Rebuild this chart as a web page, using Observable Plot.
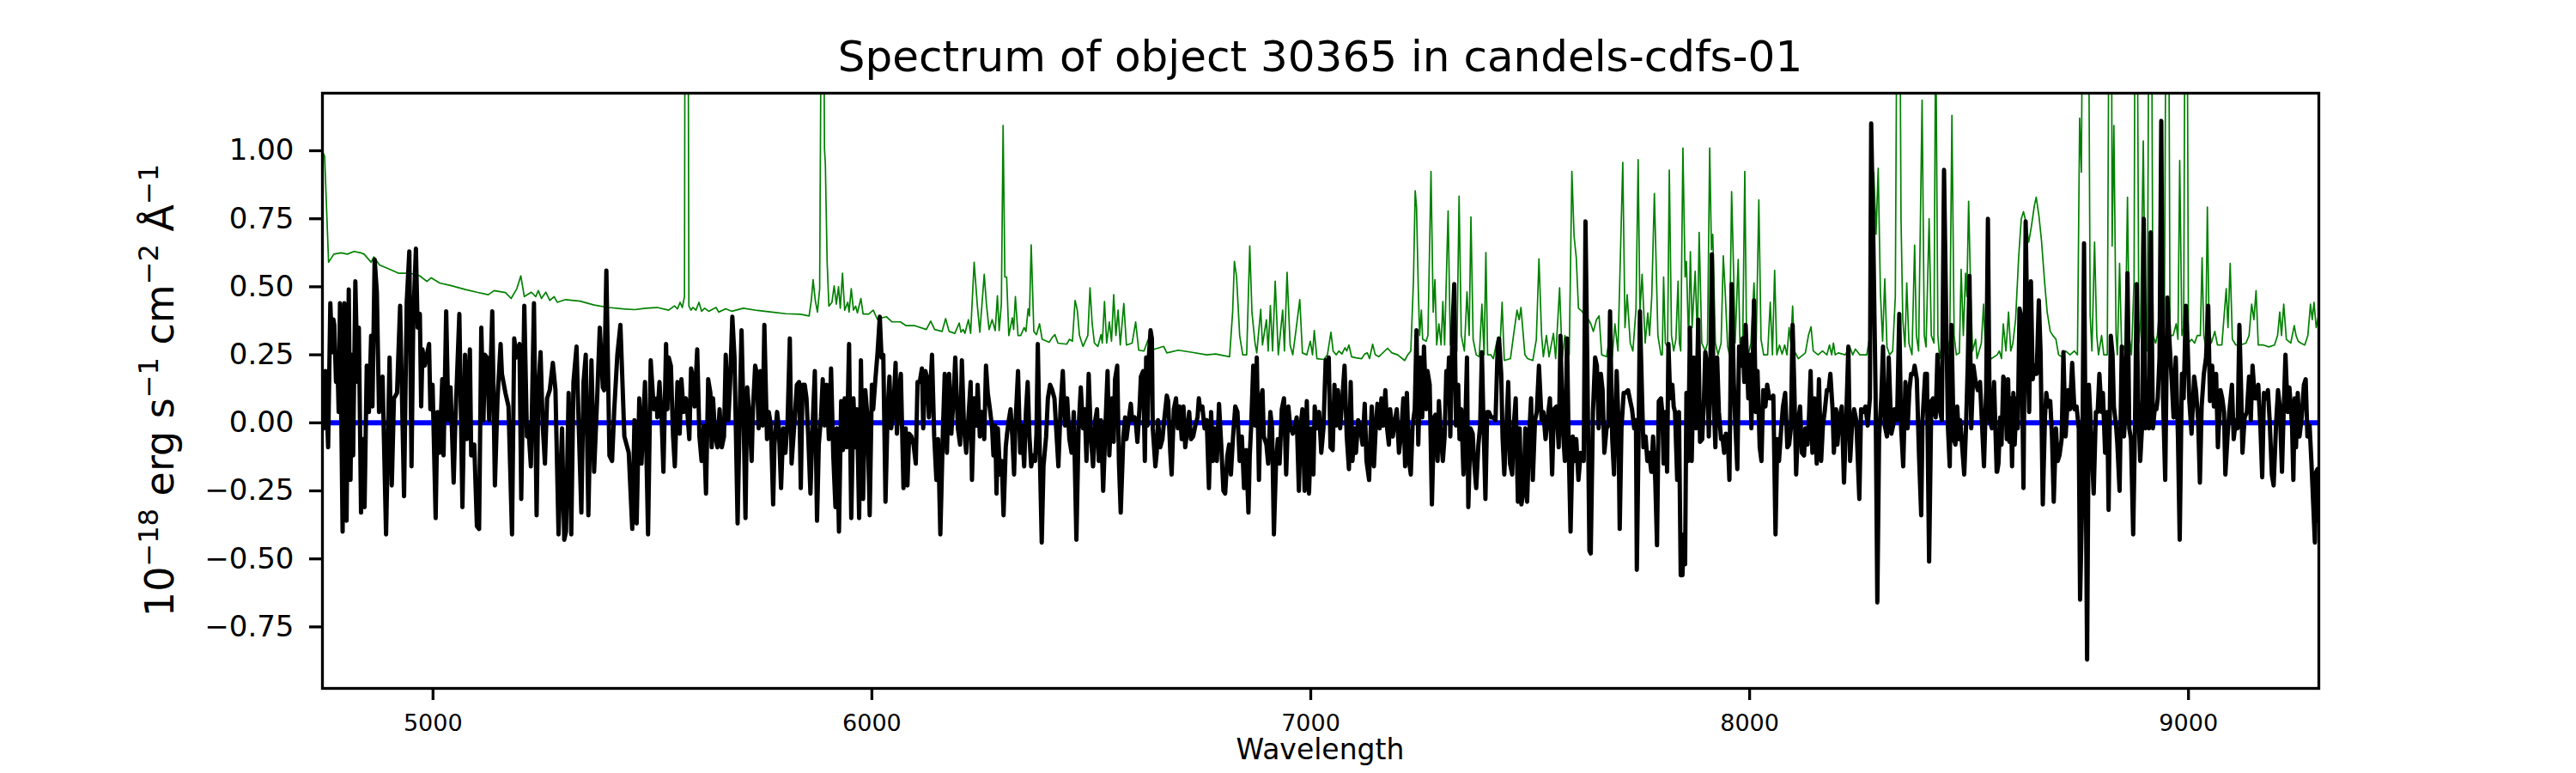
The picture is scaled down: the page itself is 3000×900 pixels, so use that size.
<!DOCTYPE html>
<html><head><meta charset="utf-8">
<script src="https://cdn.jsdelivr.net/npm/d3@7"></script>
<script src="https://cdn.jsdelivr.net/npm/@observablehq/plot@0.6"></script>
<style>html,body{margin:0;padding:0;background:#fff;} svg{display:block;}</style>
</head><body><div id="chart"></div>
<script>
const titleText = "Spectrum of object 30365 in candels-cdfs-01";
const xLabelText = "Wavelength";
const xTicks = [5000, 6000, 7000, 8000, 9000];
const yTicks = [-0.75, -0.5, -0.25, 0, 0.25, 0.5, 0.75, 1.0];
const zeroLevel = [0];

// Object flux (black)
const wave1 = [4751,4755,4761,4766,4770,4773,4775,4779,4782,4785,
4788,4794,4798,4803,4808,4812,4815,4818,4823,4828,
4831,4836,4841,4844,4849,4854,4859,4862,4867,4872,
4877,4885,4893,4901,4906,4911,4918,4925,4934,4940,
4946,4951,4955,4961,4965,4970,4973,4976,4981,4986,
4991,4994,4999,5006,5010,5015,5021,5024,5030,5035,
5040,5047,5051,5060,5067,5073,5077,5084,5087,5094,
5100,5105,5110,5115,5118,5123,5128,5135,5141,5147,
5154,5157,5165,5172,5180,5185,5190,5197,5201,5208,
5214,5217,5223,5230,5236,5240,5245,5250,5255,5260,
5266,5273,5279,5286,5294,5299,5303,5309,5315,5320,
5327,5332,5338,5343,5348,5354,5361,5367,5374,5380,
5387,5390,5395,5402,5408,5413,5420,5427,5436,5446,
5454,5459,5464,5470,5475,5483,5490,5496,5503,5510];
const flux1 = [-0.02,0.19,-0.09,0.44,0.26,0.38,0.36,0.15,0.24,0.04,
0.44,-0.40,0.44,-0.36,0.49,-0.21,0.25,-0.12,0.52,0.15,
0.35,-0.33,-0.06,-0.31,0.21,0.04,0.32,0.06,0.60,0.48,
0.04,0.17,-0.41,0.24,-0.23,0.09,0.11,0.43,-0.27,0.44,
0.63,-0.16,0.38,0.64,0.35,0.40,0.06,0.27,0.21,0.25,
0.29,0.05,0.14,-0.35,0.04,-0.11,0.16,-0.12,0.41,0.01,
0.13,-0.22,0.01,0.40,-0.31,0.25,-0.06,0.27,-0.12,-0.08,
-0.38,-0.39,0.35,0.01,0.25,0.24,0.01,0.41,-0.23,0.09,
0.29,0.18,0.11,0.06,-0.41,0.31,0.24,0.29,-0.28,0.43,
-0.05,-0.01,-0.16,0.44,-0.34,0.12,0.26,-0.01,-0.15,0.09,
0.12,0.22,0.12,-0.41,-0.02,-0.43,-0.40,0.11,-0.41,0.15,
0.28,-0.01,-0.33,0.15,0.25,-0.34,0.23,-0.18,0.09,0.35,
0.13,0.12,0.56,-0.12,-0.14,0.05,0.25,0.36,-0.05,-0.11,
-0.39,0.01,-0.37,0.09,-0.15,0.15,-0.41,0.23,0.05,0.09];

const wave2 = [5511,5516,5521,5525,5531,5534,5537,5542,5547,5551,
5557,5562,5566,5571,5576,5579,5584,5588,5593,5596,
5602,5607,5612,5617,5622,5627,5632,5635,5638,5643,
5648,5653,5658,5663,5667,5673,5677,5682,5687,5694,
5699,5703,5708,5712,5716,5721,5726,5729,5734,5738,
5742,5746,5751,5755,5761,5765,5770,5775,5778,5784,
5788,5793,5798,5803,5808,5813,5817,5824,5829,5834,
5838,5842,5847,5851,5855,5860,5864,5870,5875,5879,
5884,5888,5892,5897,5902,5907,5912,5917,5920,5925,
5930,5934,5938,5943,5948,5953,5958,5962,5966,5971,
5975,5980,5985,5990,5995,6000,6003,6008,6013,6018,
6022,6026,6031,6036,6040,6044,6049,6054,6057,6062,
6066,6072,6077,6081,6085,6090,6095,6100,6104,6109,
6114,6117,6122,6127,6130,6137,6142,6147,6151,6156,
6162,6166,6171,6176,6181,6186,6190,6196,6201,6205,
6210,6215,6220,6225,6228,6233,6238,6241,6246,6251,
6256,6260,6264,6269];
const flux2 = [0.02,0.15,0.01,-0.18,0.29,0.05,0.24,0.21,-0.05,-0.16,
0.15,-0.04,0.16,0.04,0.09,0.05,-0.06,0.20,0.16,0.06,
0.27,-0.05,-0.14,-0.01,-0.26,0.16,0.11,-0.09,0.09,-0.05,
-0.09,0.05,-0.09,-0.05,0.25,0.01,0.15,0.39,0.24,-0.37,
0.05,0.34,-0.01,-0.35,0.13,0.02,-0.14,0.05,0.21,0.18,
-0.02,0.19,-0.01,0.36,-0.06,0.04,-0.01,-0.30,-0.08,0.04,
-0.02,-0.24,-0.02,-0.11,0.01,0.31,-0.15,0.01,0.14,0.15,
-0.24,0.14,0.14,0.09,-0.05,-0.26,-0.05,0.19,-0.36,-0.08,
0.02,0.16,-0.01,0.14,-0.06,0.20,-0.12,-0.31,-0.02,-0.40,
0.08,-0.10,0.09,-0.09,0.29,-0.35,0.09,-0.09,0.05,-0.35,
0.23,-0.28,0.12,0.02,-0.34,0.14,0.05,0.16,0.26,0.39,
0.24,0.25,-0.29,0.05,0.17,-0.02,0.05,0.22,-0.04,0.12,
0.18,-0.24,-0.02,-0.23,-0.04,-0.05,-0.08,-0.15,0.15,0.15,
0.20,-0.02,0.19,0.16,0.02,0.25,-0.05,-0.21,-0.06,-0.41,
-0.02,0.18,-0.11,0.18,-0.04,0.09,0.24,-0.02,-0.08,0.23,
-0.02,-0.11,0.02,0.15,-0.21,0.09,-0.01,0.14,-0.05,0.04,
-0.06,0.21,0.11,0.05];

const wave3 = [6274,6277,6281,6284,6287,6292,6296,6300,6305,6308,
6312,6316,6320,6324,6327,6333,6338,6342,6347,6351,
6355,6359,6363,6367,6372,6375,6378,6383,6387,6391,
6397,6401,6406,6411,6416,6421,6425,6430,6435,6440,
6445,6450,6455,6460,6466,6471,6476,6481,6485,6489,
6494,6499,6504,6509,6513,6517,6522,6527,6532,6537,
6541,6547,6551,6554,6559,6563,6567,6573,6577,6580,
6586,6590,6593,6599,6602,6605,6610,6613,6618,6622,
6625,6628,6631,6635,6638,6640,6646,6649,6652,6657,
6662,6666,6672,6675,6680,6683,6688,6693,6697,6701,
6706,6710,6714,6719,6723,6727,6732,6737,6742,6745,
6748,6753,6758,6763,6768,6773,6777,6781,6786,6791,
6796,6801,6805,6810,6814,6818,6823,6828,6833,6838,
6843,6848,6853,6858,6861,6864,6869,6873,6877,6882,
6886,6890,6893,6899,6903,6908,6912,6916,6921,6925,
6929,6934,6939,6944,6949,6953,6959,6964,6968,6973,
6977,6981,6986,6991,6996,7001,7006,7009,7014,7019,
7024,7029,7034];
const flux3 = [-0.02,-0.12,-0.01,-0.26,-0.02,-0.19,-0.14,-0.34,-0.09,-0.04,
0.01,0.05,-0.05,-0.19,-0.01,0.19,-0.11,-0.01,-0.16,0.04,
0.15,-0.05,-0.16,-0.12,-0.14,-0.04,0.29,-0.14,-0.44,-0.16,
-0.05,0.09,0.14,0.12,0.09,-0.05,-0.16,0.06,0.19,-0.01,
0.09,-0.06,-0.11,0.04,-0.43,-0.02,0.13,-0.02,0.05,-0.14,
0.18,-0.05,-0.16,0.01,0.05,-0.14,0.01,-0.25,-0.02,0.19,
-0.12,0.09,-0.07,0.16,0.21,-0.15,-0.33,-0.05,0.02,-0.06,
0.02,0.07,0.01,0.02,-0.01,-0.07,0.06,0.17,0.19,-0.14,
0.24,-0.01,0.24,0.34,0.31,-0.02,-0.16,-0.11,0.01,-0.09,
-0.06,0.01,0.10,0.08,-0.11,-0.19,0.05,0.09,-0.02,0.06,
-0.06,0.06,-0.09,-0.02,0.04,-0.06,-0.05,-0.01,0.02,0.09,
0.05,0.06,-0.02,0.01,-0.24,0.04,-0.14,-0.02,-0.14,0.07,
-0.08,-0.25,-0.26,-0.12,-0.08,-0.19,-0.05,0.06,0.04,-0.14,
-0.05,-0.24,-0.10,-0.33,-0.12,-0.02,0.21,-0.01,0.24,-0.21,
0.09,0.12,-0.05,-0.08,-0.15,0.04,-0.02,-0.41,-0.14,-0.06,
-0.15,0.05,0.09,-0.19,0.06,-0.01,-0.04,-0.01,0.02,-0.25,
-0.01,0.05,-0.25,0.08,-0.26,-0.02,-0.19,0.06,-0.02,0.04,
-0.11,-0.02,0.23];

const wave4 = [7038,7041,7045,7050,7054,7058,7062,7067,7072,7077,
7082,7087,7091,7095,7100,7103,7108,7113,7118,7123,
7127,7133,7136,7139,7144,7148,7152,7157,7161,7165,
7170,7174,7178,7181,7187,7191,7196,7201,7206,7211,
7215,7219,7224,7228,7232,7237,7241,7245,7250,7254,
7258,7263,7266,7271,7276,7281,7284,7289,7292,7297,
7301,7305,7309,7312,7315,7318,7323,7327,7331,7336,
7339,7343,7348,7351,7356,7359,7364,7369,7372,7377,
7382,7386,7390,7393,7398,7402,7406,7411,7416,7421,
7426,7429,7434,7437,7441,7446,7450,7454,7459,7462,
7467,7472,7476,7480,7485,7489,7493,7498,7502,7506,
7511,7515,7520,7526,7530,7535,7540,7545,7550,7554,
7560,7565,7569,7574,7579,7584,7588,7592,7597,7601,
7605,7610,7615,7622,7626,7630,7635,7638,7643,7648,
7652,7656,7661,7665,7669,7674,7678,7682,7687,7691,
7697,7701,7704,7708,7713,7717,7723,7728,7732,7737,
7741,7743,7747,7750,7755,7758,7763,7767,7771,7776,
7780,7785,7789,7793,7798];
const flux4 = [0.21,0.24,-0.09,-0.10,0.14,-0.01,0.12,-0.02,0.09,0.21,
-0.05,-0.17,0.15,-0.14,-0.02,-0.11,0.01,-0.02,-0.08,0.07,
-0.14,-0.21,-0.05,0.06,-0.16,-0.02,0.07,-0.02,0.09,-0.01,
0.12,-0.02,-0.08,0.05,-0.05,0.00,0.05,-0.11,-0.04,0.09,
-0.16,0.11,-0.14,-0.19,-0.01,0.05,0.34,-0.08,0.24,0.02,
0.28,0.05,0.19,0.14,-0.30,0.02,0.03,-0.14,0.08,-0.06,
-0.14,-0.05,0.19,0.12,0.24,-0.05,0.35,0.51,-0.01,0.14,
-0.06,0.05,-0.19,-0.08,0.24,-0.31,-0.02,-0.04,-0.14,-0.24,
-0.08,-0.01,0.26,0.04,-0.28,0.04,0.04,0.02,0.02,0.01,
0.28,0.31,0.18,-0.05,-0.19,-0.01,0.15,-0.15,-0.19,-0.02,
0.09,-0.29,-0.02,-0.30,-0.25,-0.02,-0.29,-0.04,0.09,-0.21,
0.01,0.04,0.21,0.01,0.04,-0.06,0.02,0.09,-0.19,0.05,
0.06,-0.09,0.32,-0.01,-0.14,0.31,-0.11,-0.40,-0.05,-0.14,
-0.06,-0.21,-0.11,-0.14,0.74,0.24,-0.47,-0.48,0.04,0.24,
0.21,-0.02,0.18,0.12,-0.11,-0.02,-0.01,0.41,-0.06,-0.19,
0.19,0.01,-0.39,-0.02,0.11,0.11,0.12,0.08,0.05,-0.02,
0.01,-0.54,-0.05,0.41,0.09,-0.09,-0.05,-0.14,-0.11,-0.18,
-0.05,-0.21,-0.45,0.08,0.09];

const wave5 = [7801,7804,7808,7812,7815,7819,7824,7827,7830,7835,
7839,7843,7847,7850,7853,7856,7860,7864,7868,7873,
7878,7883,7887,7892,7896,7899,7903,7907,7911,7914,
7918,7922,7926,7930,7935,7938,7942,7946,7950,7954,
7959,7964,7967,7972,7976,7980,7984,7988,7991,7997,
8001,8004,8010,8014,8018,8023,8027,8031,8036,8040,
8045,8050,8054,8059,8063,8067,8072,8076,8081,8086,
8090,8094,8098,8102,8106,8111,8115,8119,8124,8127,
8132,8135,8139,8143,8148,8153,8158,8163,8167,8171,
8176,8180,8184,8189,8192,8197,8200,8205,8210,8215,
8220,8225,8229,8233,8238,8243,8250,8254,8259,8264,
8269,8274,8277,8282,8287,8291,8295,8300,8304,8308,
8313,8317,8323,8327,8330,8336,8341,8345,8350,8355,
8360,8364,8368,8373,8376,8381,8386,8391,8394,8400,
8404,8409,8414,8418,8424,8428,8433,8438,8443,8448,
8452,8456,8460,8465,8469,8473,8477,8480,8484,8489,
8493,8497,8501,8505,8510,8515,8520,8525,8530,8534,
8539,8543,8547,8552,8557,8563];
const flux5 = [0.04,-0.15,0.04,-0.18,0.29,0.09,0.14,0.06,0.04,-0.21,
0.04,-0.56,-0.56,-0.41,-0.52,0.11,-0.14,0.35,-0.14,0.24,
-0.02,0.38,-0.07,-0.06,0.09,0.26,0.21,-0.05,0.26,0.62,
0.09,-0.09,0.24,0.04,-0.06,-0.05,-0.11,-0.04,-0.05,-0.21,
0.51,0.15,0.01,-0.17,0.28,0.21,0.31,0.15,0.36,0.09,
0.25,-0.02,0.45,0.04,0.19,-0.09,-0.14,0.12,0.06,0.14,
0.09,0.09,0.10,-0.41,-0.06,-0.14,-0.02,0.06,0.11,-0.09,
-0.08,-0.02,0.36,0.12,-0.19,0.01,0.06,-0.11,-0.12,-0.02,
-0.08,0.01,0.19,-0.11,0.09,-0.15,0.16,-0.14,-0.01,0.04,
0.12,0.12,0.18,0.05,-0.11,0.05,-0.08,0.02,0.06,-0.22,
0.01,0.28,-0.14,-0.02,0.05,0.01,-0.28,0.05,0.04,0.06,
-0.01,0.09,1.10,0.66,0.11,-0.66,-0.05,0.09,0.28,-0.01,
-0.05,0.24,-0.04,-0.01,0.05,0.01,0.40,-0.01,-0.16,0.15,
-0.02,0.12,0.18,0.18,0.21,0.16,-0.12,-0.34,0.01,0.18,
0.18,-0.51,0.08,0.09,0.02,0.25,0.05,0.01,0.93,0.38,
-0.02,-0.16,0.36,-0.06,-0.08,0.06,-0.06,0.01,-0.08,-0.19,
-0.02,0.21,0.54,-0.02,0.21,0.15,0.12,0.15,-0.02,-0.16,
0.12,0.75,0.01,-0.02,0.15,-0.18];

const wave6 = [8564,8567,8571,8574,8578,8582,8586,8589,8592,8595,
8598,8601,8604,8608,8611,8615,8619,8624,8629,8634,
8637,8641,8645,8649,8654,8659,8663,8668,8673,8676,
8680,8685,8689,8693,8698,8702,8706,8711,8715,8720,
8726,8730,8735,8740,8745,8750,8753,8757,8762,8766,
8769,8773,8776,8779,8784,8789,8793,8797,8802,8805,
8810,8815,8818,8823,8827,8830,8835,8838,8843,8848,
8853,8857,8861,8865,8869,8874,8878,8882,8885,8890,
8895,8898,8902,8904,8910,8914,8919,8923,8927,8930,
8934,8938,8942,8947,8952,8957,8962,8966,8971,8976,
8980,8985,8989,8994,8998,9002,9007,9013,9017,9022,
9026,9030,9035,9040,9045,9049,9054,9058,9063,9067,
9073,9077,9081,9084,9089,9093,9099,9103,9108,9112,
9116,9120,9123,9128,9133,9138,9142,9146,9151,9155,
9159,9164,9168,9172,9177,9181,9185,9190,9194,9200,
9204,9208,9213,9217,9221,9226,9230,9236,9239,9242,
9245,9249,9253,9258,9263,9267,9271,9276,9280,9284,
9288,9291,9294,9297];
const flux6 = [-0.18,-0.15,0.02,-0.08,0.17,0.15,-0.06,0.16,-0.07,0.09,
-0.16,0.11,-0.08,0.09,-0.02,0.42,0.39,-0.24,0.74,0.21,
0.04,0.52,0.16,0.21,0.18,0.45,0.26,-0.30,0.02,0.11,
0.06,0.08,-0.05,-0.29,-0.02,-0.14,-0.12,-0.06,0.26,-0.05,
0.12,0.05,0.22,0.05,0.06,-0.02,-0.65,-0.34,0.66,-0.19,
-0.87,0.14,0.04,-0.08,-0.26,0.04,0.04,0.18,0.04,0.11,
-0.11,0.04,-0.32,0.32,0.25,0.06,-0.01,-0.08,-0.25,0.28,
-0.05,0.06,0.55,-0.02,-0.06,-0.41,-0.02,0.51,0.09,-0.14,
0.01,0.75,-0.02,0.15,-0.02,0.70,-0.02,0.05,0.05,0.09,
0.24,1.11,0.09,-0.21,0.46,0.29,0.15,0.02,0.24,-0.05,
-0.43,0.18,0.09,0.43,0.29,0.08,-0.04,0.17,0.12,0.01,
-0.22,0.06,0.18,0.24,0.43,0.08,0.21,0.06,0.18,-0.09,
0.12,0.09,0.04,-0.19,-0.05,0.04,0.14,-0.06,0.01,-0.02,
0.36,0.12,-0.11,0.02,0.04,0.17,0.01,0.21,0.09,0.09,
0.14,-0.02,-0.20,0.11,0.09,0.12,0.01,-0.19,-0.23,0.01,
0.12,0.06,-0.18,0.05,0.25,0.04,0.13,-0.01,-0.21,0.09,
-0.09,0.11,-0.05,0.02,0.14,0.16,-0.05,-0.01,-0.14,-0.29,
-0.44,-0.18,-0.17,-0.36];

// Noise / sky spectrum (green)
const skyWave1 = [4750,4753,4762,4774,4790,4805,4820,4835,4843,4859,
4865,4878,4900,4921,4940,4957,4970,4986,4996,5015,
5040,5074,5100,5126,5139,5165,5178,5191,5200,5208,
5224,5234,5240,5247,5257,5266,5276,5283,5302,5335,
5367,5400,5433,5459,5485];
const sky1 = [0.99,0.98,0.59,0.62,0.625,0.62,0.63,0.625,0.62,0.59,
0.61,0.58,0.565,0.55,0.55,0.547,0.54,0.52,0.533,0.514,
0.505,0.49,0.48,0.471,0.486,0.479,0.457,0.493,0.54,0.464,
0.48,0.464,0.486,0.457,0.48,0.45,0.464,0.443,0.453,0.447,
0.433,0.424,0.419,0.416,0.421];

const skyWave2 = [5511,5537,5550,5557,5563,5568,5573,5575,5580,5583,
5588,5592,5599,5606,5612,5619,5628,5645,5651,5667,
5681,5707,5739,5772,5804,5837,5857,5862,5866,5871,
5876,5881,5886,5889,5892,5894,5898,5902,5909,5914,
5919,5924,5928,5933,5938,5945,5948,5953,5958,5963,
5967,5975,5980,5993,6003,6013,6023,6033,6046,6065,
6078,6098,6124,6134,6143,6160,6168,6176,6189,6199,
6203,6208,6212,6220,6225,6233,6240,6246,6256,6261,
6267];
const sky2 = [0.424,0.414,0.43,0.419,0.443,0.424,0.464,2.5,2.5,0.429,
0.414,0.424,0.414,0.443,0.41,0.421,0.41,0.424,0.407,0.419,
0.41,0.421,0.413,0.407,0.401,0.399,0.393,0.45,0.526,0.45,
0.407,0.493,2.0,2.0,1.007,0.95,0.593,0.429,0.443,0.503,
0.436,0.50,0.421,0.55,0.414,0.443,0.407,0.493,0.414,0.429,
0.404,0.457,0.40,0.40,0.414,0.379,0.386,0.39,0.371,0.371,
0.357,0.357,0.343,0.374,0.343,0.336,0.383,0.336,0.329,0.367,
0.333,0.343,0.329,0.379,0.329,0.59,0.436,0.333,0.546,0.436,
0.343];

const skyWave3 = [6274,6281,6286,6290,6295,6299,6303,6307,6312,6320,
6323,6327,6333,6339,6347,6351,6356,6359,6363,6369,
6375,6382,6388,6404,6411,6417,6424,6444,6450,6457,
6463,6468,6473,6481,6492,6497,6502,6507,6515,6522,
6525,6530,6535,6541,6546,6551,6556,6561,6566,6574,
6580,6593,6601,6608,6620,6629,6636,6665,6672,6698,
6730,6763,6783,6815,6822,6826,6831,6838,6845,6854,
6861,6866,6873,6877,6886,6890,6899,6903,6908,6913,
6919,6926,6936,6940,6946,6953,6959,6966,6975,6981,
6991,6999,7004,7008,7014,7030];
const sky3 = [0.379,0.339,0.467,0.339,0.436,1.093,0.536,0.536,0.321,0.386,
0.343,0.464,0.321,0.321,0.35,0.336,0.419,0.393,0.654,0.336,
0.324,0.364,0.307,0.296,0.314,0.324,0.293,0.289,0.307,0.30,
0.45,0.414,0.321,0.281,0.321,0.496,0.364,0.293,0.281,0.324,
0.293,0.446,0.293,0.371,0.30,0.471,0.321,0.414,0.286,0.439,
0.286,0.293,0.371,0.267,0.264,0.304,0.267,0.281,0.257,0.267,
0.259,0.25,0.253,0.243,0.407,0.593,0.536,0.321,0.25,0.25,
0.65,0.407,0.293,0.257,0.417,0.286,0.379,0.264,0.431,0.264,
0.521,0.25,0.414,0.264,0.553,0.286,0.25,0.336,0.453,0.257,
0.25,0.30,0.25,0.339,0.236,0.233];

const skyWave4 = [7038,7046,7051,7058,7064,7071,7078,7082,7087,7093,
7103,7116,7123,7129,7134,7141,7147,7155,7175,7185,
7198,7214,7221,7228,7234,7238,7241,7245,7248,7252,
7255,7263,7267,7274,7279,7283,7287,7292,7297,7301,
7305,7313,7318,7325,7333,7338,7343,7350,7356,7361,
7365,7370,7377,7384,7390,7395,7399,7403,7410,7416,
7426,7430,7436,7441,7455,7462,7470,7475,7479,7488,
7494,7506,7514,7520,7526,7530,7537,7543,7553,7558,
7567,7573,7579,7589,7595,7600,7605,7610,7618,7625,
7633,7638,7644,7651,7657,7663,7674,7680,7687,7693,
7700,7711,7716,7721,7728,7734,7741,7746,7750,7755,
7762,7768,7772,7777,7783,7791,7798];
const sky4 = [0.25,0.333,0.264,0.25,0.264,0.253,0.276,0.264,0.286,0.243,
0.239,0.236,0.253,0.257,0.236,0.289,0.25,0.243,0.274,0.257,
0.25,0.229,0.25,0.264,0.521,0.853,0.793,0.493,0.321,0.414,
0.307,0.30,0.321,0.924,0.407,0.526,0.286,0.364,0.286,0.446,
0.286,0.779,0.286,0.307,0.264,0.833,0.321,0.264,0.481,0.321,
0.757,0.307,0.25,0.243,0.436,0.25,0.626,0.25,0.25,0.236,
0.314,0.236,0.443,0.229,0.236,0.321,0.414,0.379,0.424,0.25,
0.236,0.229,0.307,0.603,0.321,0.243,0.321,0.243,0.329,0.236,
0.496,0.236,0.321,0.25,0.924,0.686,0.607,0.421,0.41,0.393,
0.379,0.364,0.336,0.379,0.393,0.25,0.243,0.307,0.243,0.364,
0.264,0.957,0.35,0.471,0.293,0.264,0.414,0.967,0.407,0.546,
0.293,0.404,0.321,0.464,0.843,0.321,0.25];

const skyWave5 = [7801,7804,7808,7813,7817,7822,7827,7832,7837,7840,
7843,7848,7853,7856,7861,7865,7869,7876,7881,7885,
7891,7899,7904,7909,7913,7916,7922,7928,7935,7940,
7944,7950,7954,7959,7964,7967,7974,7978,7984,7989,
7993,7997,8003,8010,8015,8021,8026,8032,8041,8047,
8052,8057,8062,8068,8074,8080,8085,8090,8094,8098,
8102,8111,8127,8134,8140,8145,8156,8166,8176,8182,
8187,8191,8195,8202,8218,8228,8235,8241,8251,8267,
8274,8278,8283,8288,8293,8298,8303,8308,8313,8319,
8326,8332,8337,8341,8345,8349,8354,8358,8363,8370,
8376,8380,8385,8393,8398,8402,8409,8414,8420,8424,
8429,8433,8440,8446,8452,8456,8461,8466,8471,8478,
8482,8487,8492,8495,8499,8504,8508,8515,8518,8528,
8533,8538,8551];
const sky5 = [0.25,0.536,0.293,0.279,0.929,0.321,0.264,0.307,0.521,0.293,
0.264,1.01,0.536,0.593,0.293,0.629,0.35,0.557,0.307,0.70,
0.293,0.264,0.293,1.01,0.636,0.693,0.293,0.25,0.293,0.614,
0.493,0.279,0.25,0.85,0.521,0.293,0.60,0.293,0.264,0.924,
0.307,0.25,0.293,0.514,0.293,0.819,0.307,0.25,0.25,0.443,
0.25,0.56,0.25,0.286,0.253,0.286,0.25,0.35,0.293,0.429,
0.264,0.236,0.257,0.321,0.353,0.264,0.25,0.264,0.25,0.286,
0.25,0.293,0.25,0.257,0.25,0.279,0.25,0.271,0.25,0.25,
0.321,0.493,0.921,0.693,0.936,0.479,0.30,0.529,0.279,0.25,
0.264,0.464,2.0,2.0,0.75,0.379,0.279,0.514,0.293,0.25,
0.653,0.321,0.264,1.186,0.321,0.279,0.75,0.321,0.293,1.5,
0.321,0.236,0.307,0.436,0.264,0.307,1.13,0.321,0.25,0.257,
0.564,0.321,0.55,0.464,0.814,0.464,0.264,0.307,0.236,0.293,
0.436,0.25,0.236];

const skyWave6 = [8564,8569,8574,8578,8584,8590,8595,8600,8606,8613,
8619,8624,8629,8636,8642,8649,8653,8659,8665,8672,
8678,8685,8691,8698,8704,8711,8720,8730,8740,8747,
8752,8756,8760,8764,8767,8771,8776,8780,8786,8791,
8795,8802,8807,8815,8820,8824,8826,8830,8835,8838,
8843,8848,8856,8861,8865,8870,8876,8879,8882,8887,
8891,8897,8902,8906,8911,8915,8919,8925,8929,8932,
8937,8941,8945,8950,8954,8958,8965,8972,8976,8980,
8985,8989,8993,8996,9000,9007,9014,9020,9027,9031,
9035,9039,9043,9047,9052,9060,9066,9076,9086,9090,
9095,9100,9108,9118,9131,9138,9144,9149,9154,9159,
9171,9183,9196,9203,9208,9212,9217,9223,9233,9241,
9245,9250,9256,9265,9272,9278,9282,9286,9291,9296];
const sky6 = [0.25,0.264,0.236,0.364,0.264,0.407,0.264,0.293,0.379,0.607,
0.75,0.776,0.743,0.664,0.721,0.80,0.829,0.764,0.671,0.521,
0.407,0.336,0.321,0.307,0.25,0.243,0.264,0.25,0.264,0.25,
1.12,0.921,2.0,2.0,2.0,2.0,0.393,0.264,0.664,0.321,
0.25,0.321,0.25,0.25,2.0,2.0,0.65,1.093,0.321,0.25,
0.586,0.25,0.293,0.829,0.321,0.25,0.521,2.0,2.0,0.293,
0.379,1.036,0.321,0.264,2.0,2.0,0.321,0.293,0.321,0.379,
0.607,0.436,0.379,2.0,2.0,0.321,0.321,0.364,0.307,0.964,
0.321,0.35,2.0,2.0,0.293,0.307,0.293,0.321,0.321,0.607,
0.321,0.279,0.793,0.35,0.293,0.336,0.286,0.286,0.493,0.35,
0.586,0.307,0.286,0.286,0.293,0.321,0.436,0.379,0.486,0.286,
0.286,0.279,0.286,0.321,0.407,0.321,0.436,0.307,0.293,0.357,
0.321,0.30,0.293,0.286,0.321,0.436,0.379,0.443,0.35,0.393];

function pairs(ws, vs) {
  const n = Math.min(ws.length, vs.length);
  const out = [];
  for (let i = 0; i < n; i++) out.push({w: ws[i], f: vs[i]});
  return out;
}
const fluxData = [
  ...pairs(wave1, flux1), ...pairs(wave2, flux2), ...pairs(wave3, flux3),
  ...pairs(wave4, flux4), ...pairs(wave5, flux5), ...pairs(wave6, flux6)
];
const skyData = [
  ...pairs(skyWave1, sky1), ...pairs(skyWave2, sky2), ...pairs(skyWave3, sky3),
  ...pairs(skyWave4, sky4), ...pairs(skyWave5, sky5), ...pairs(skyWave6, sky6)
];

const FONT = "DejaVu Sans";
const fmtY = d => d.toFixed(2).replace("-", "\u2212");

const chart = Plot.plot({
  width: 3000,
  height: 900,
  marginLeft: 375,
  marginRight: 300,
  marginTop: 108,
  marginBottom: 99,
  style: {fontFamily: FONT, background: "#ffffff", color: "#000000", overflow: "visible"},
  x: {domain: [4748, 9297]},
  y: {domain: [-0.976, 1.2115]},
  marks: [
    Plot.line(skyData, {x: "w", y: "f", stroke: "#008000", strokeWidth: 1.7, clip: true}),
    Plot.ruleY(zeroLevel, {stroke: "#0000ff", strokeWidth: 6}),
    Plot.line(fluxData, {x: "w", y: "f", stroke: "#000000", strokeWidth: 5, clip: true}),
    Plot.frame({stroke: "#000000", strokeWidth: 3.3}),
    Plot.axisX({ticks: xTicks, tickSize: 14, tickPadding: 16, strokeWidth: 3.3,
      fontSize: 27, fontFamily: FONT, label: null, tickFormat: d => String(d)}),
    Plot.axisY({ticks: yTicks, tickSize: 15, tickPadding: 18, strokeWidth: 3.3,
      fontSize: 34, fontFamily: FONT, label: null, tickFormat: fmtY})
  ]
});

const svg = d3.select(chart);
svg.append("text")
  .attr("x", 1537.5).attr("y", 83)
  .attr("text-anchor", "middle")
  .attr("font-family", FONT).attr("font-size", 50).attr("fill", "#000")
  .text(titleText);

svg.append("text")
  .attr("x", 1537.5).attr("y", 884)
  .attr("text-anchor", "middle")
  .attr("font-family", FONT).attr("font-size", 33).attr("fill", "#000")
  .text(xLabelText);

const yl = svg.append("text")
  .attr("transform", "translate(202,454.5) rotate(-90)")
  .attr("text-anchor", "middle")
  .attr("font-family", FONT).attr("font-size", 46).attr("fill", "#000");
const parts = [
  ["10", false], ["\u221218", true], [" erg s", false], ["\u22121", true],
  [" cm", false], ["\u22122", true], [" \u00c5", false], ["\u22121", true]
];
let raised = false;
for (const [txt, sup] of parts) {
  const t = yl.append("tspan").text(txt);
  if (sup) { t.attr("dy", raised ? 0 : -18).attr("font-size", 32); raised = true; }
  else if (raised) { t.attr("dy", 18); raised = false; }
}
yl.attr("xml:space", "preserve");

document.getElementById("chart").appendChild(chart);
</script>
</body></html>
